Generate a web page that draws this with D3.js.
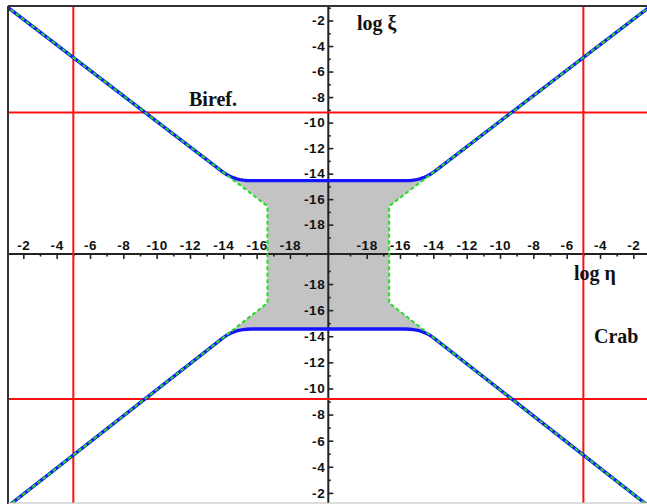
<!DOCTYPE html>
<html>
<head>
<meta charset="utf-8">
<script src="https://cdn.jsdelivr.net/npm/d3@7/dist/d3.min.js"></script>
<style>
  html, body { margin: 0; padding: 0; background: #fff; }
  svg { display: block; }
  .tick text { font-family: "Liberation Sans", Arial, sans-serif; font-weight: bold; font-size: 13.5px; fill: #111; letter-spacing: 0.6px; }
  .lbl { font-family: "Liberation Serif", "Times New Roman", serif; font-weight: bold; font-size: 20px; fill: #111; }
</style>
</head>
<body>
<script>
// Both axes are folded logarithmic scales: each half runs from log = 0 at the
// outer edge down to the meeting value at the origin.
const centerLog = -20.3;
const majorTicks = [-2, -4, -6, -8, -10, -12, -14, -16, -18];
const minorTicks = [-1, -3, -5, -7, -9, -11, -13, -15, -17, -19];

// Red reference lines
const etaRef = [-5];          // log η of the vertical lines (both halves)
const xiRef = [-9.2];         // log ξ of the horizontal lines (both halves)

// Outer diagonal branch, shared by both bounds  [log η, log ξ]
const diagonal = [[0, 0.1], [-14.0, -13.9]];
// Blue bound: bends into the plateau at log ξ = -14.55
const blueBend = [
  [-14.0, -13.9], [-14.2, -14.07], [-14.4, -14.21], [-14.6, -14.32],
  [-14.8, -14.41], [-15.0, -14.47], [-15.2, -14.51], [-15.4, -14.54], [-15.7, -14.55]
];
// Green bound: continues the diagonal, then turns vertical at log η = -16.65
const greenBend = [[-14.0, -13.9], [-16.65, -16.55], [-16.65, centerLog]];

const W = 647, H = 504;
const frame = { x0: 8, y0: 6, x1: 647, y1: 503 };

const svg = d3.select("body").append("svg").attr("width", W).attr("height", H);

const xL = d3.scaleLinear().domain([0, centerLog]).range([-10, 328.3]);
const xR = d3.scaleLinear().domain([centerLog, 0]).range([328.3, 666.7]);
const yT = d3.scaleLinear().domain([0, centerLog]).range([-5, 254]);
const yB = d3.scaleLinear().domain([centerLog, 0]).range([254, 519]);
const X = (sx, eta) => (sx < 0 ? xL(eta) : xR(eta));
const Y = (sy, xi) => (sy < 0 ? yT(xi) : yB(xi));
const x0 = xL(centerLog), y0 = yT(centerLog);

svg.append("clipPath").attr("id", "plot")
  .append("rect")
  .attr("x", frame.x0).attr("y", frame.y0)
  .attr("width", frame.x1 - frame.x0).attr("height", frame.y1 - frame.y0);

const plot = svg.append("g").attr("clip-path", "url(#plot)");

// map a list of [η, ξ] into one quadrant
const toQ = (pts, sx, sy) => pts.map(([e, x]) => [X(sx, e), Y(sy, x)]);
const rev = a => a.slice().reverse();
const lin = d3.line();

// Allowed region (grey), bounded by the blue plateaus and the green walls
const region = [].concat(
  toQ(blueBend, -1, -1),
  rev(toQ(blueBend, 1, -1)),
  toQ(greenBend, 1, -1),
  rev(toQ(greenBend, 1, 1)),
  toQ(blueBend, 1, 1),
  rev(toQ(blueBend, -1, 1)),
  toQ(greenBend, -1, 1),
  rev(toQ(greenBend, -1, -1))
);
plot.append("path")
  .attr("d", lin(region) + "Z")
  .attr("fill", "#c3c3c3")
  .attr("stroke", "none");

// Frame
svg.append("line").attr("x1", frame.x0).attr("x2", W).attr("y1", frame.y0).attr("y2", frame.y0)
  .attr("stroke", "#333").attr("stroke-width", 2);
svg.append("line").attr("x1", frame.x0).attr("x2", frame.x0).attr("y1", frame.y0).attr("y2", H)
  .attr("stroke", "#333").attr("stroke-width", 2);
svg.append("line").attr("x1", frame.x0).attr("x2", W).attr("y1", frame.y1).attr("y2", frame.y1)
  .attr("stroke", "#bbb").attr("stroke-width", 1);

// Axis lines
plot.append("line").attr("x1", frame.x0).attr("x2", W).attr("y1", y0).attr("y2", y0)
  .attr("stroke", "#222").attr("stroke-width", 2);
plot.append("line").attr("x1", x0).attr("x2", x0).attr("y1", frame.y0).attr("y2", H)
  .attr("stroke", "#222").attr("stroke-width", 2);

// Horizontal axis ticks (labels sit above the line)
function xAxis(scale) {
  const gMaj = plot.append("g").attr("transform", `translate(0,${y0})`)
    .call(d3.axisBottom(scale).tickValues(majorTicks).tickSize(5).tickFormat(d => String(d)));
  gMaj.select(".domain").remove();
  gMaj.selectAll(".tick line").attr("stroke", "#222").attr("stroke-width", 1.6);
  gMaj.selectAll(".tick text").attr("y", -4).attr("dy", 0);
  const gMin = plot.append("g").attr("transform", `translate(0,${y0})`)
    .call(d3.axisBottom(scale).tickValues(minorTicks).tickSize(2.5).tickFormat(""));
  gMin.select(".domain").remove();
  gMin.selectAll(".tick line").attr("stroke", "#222").attr("stroke-width", 1.6);
}
xAxis(xL);
xAxis(xR);

// Vertical axis ticks (labels to the left of the line)
function yAxis(scale) {
  const gMaj = plot.append("g").attr("transform", `translate(${x0},0)`)
    .call(d3.axisRight(scale).tickValues(majorTicks).tickSize(5).tickFormat(d => String(d)));
  gMaj.select(".domain").remove();
  gMaj.selectAll(".tick line").attr("stroke", "#222").attr("stroke-width", 1.6);
  gMaj.selectAll(".tick text").attr("x", -3).attr("text-anchor", "end");
  const gMin = plot.append("g").attr("transform", `translate(${x0},0)`)
    .call(d3.axisRight(scale).tickValues(minorTicks).tickSize(2.5).tickFormat(""));
  gMin.select(".domain").remove();
  gMin.selectAll(".tick line").attr("stroke", "#222").attr("stroke-width", 1.6);
}
yAxis(yT);
yAxis(yB);

// Red reference lines
[-1, 1].forEach(s => {
  etaRef.forEach(e => {
    plot.append("line").attr("x1", X(s, e)).attr("x2", X(s, e))
      .attr("y1", frame.y0).attr("y2", H)
      .attr("stroke", "#ff1010").attr("stroke-width", 2);
  });
  xiRef.forEach(v => {
    plot.append("line").attr("x1", frame.x0).attr("x2", W)
      .attr("y1", Y(s, v)).attr("y2", Y(s, v))
      .attr("stroke", "#ff1010").attr("stroke-width", 2);
  });
});

// Blue bound: diagonal + bend + plateau, top and bottom
[-1, 1].forEach(sy => {
  const pts = [].concat(
    toQ(diagonal, -1, sy),
    toQ(blueBend.slice(1), -1, sy),
    rev(toQ(blueBend.slice(1), 1, sy)),
    rev(toQ(diagonal, 1, sy))
  );
  plot.append("path").attr("d", lin(pts))
    .attr("fill", "none").attr("stroke", "#1414ff").attr("stroke-width", 3.4)
    .attr("stroke-linejoin", "round");
});

// Green bound (dashed): diagonal + slanted piece + vertical wall, left and right
[-1, 1].forEach(sx => {
  const pts = [].concat(
    toQ(diagonal, sx, -1),
    toQ(greenBend.slice(1), sx, -1),
    rev(toQ(greenBend.slice(1), sx, 1)),
    rev(toQ(diagonal, sx, 1))
  );
  plot.append("path").attr("d", lin(pts))
    .attr("fill", "none").attr("stroke", "#22dd22").attr("stroke-width", 2)
    .attr("stroke-dasharray", "4,2.5");
});

// Labels
svg.append("text").attr("class", "lbl").attr("x", 357).attr("y", 30).text("log ξ");
svg.append("text").attr("class", "lbl").attr("x", 574).attr("y", 280).text("log η");
svg.append("text").attr("class", "lbl").attr("x", 189).attr("y", 106).text("Biref.");
svg.append("text").attr("class", "lbl").attr("x", 594).attr("y", 343).text("Crab");
</script>
</body>
</html>
